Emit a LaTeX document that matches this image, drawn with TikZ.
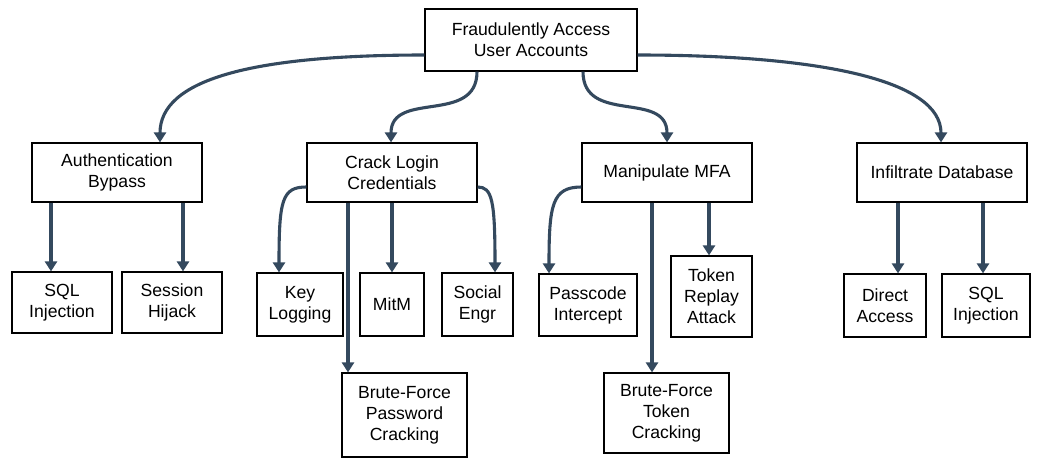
\documentclass[tikz,border=0pt]{standalone}
\usepackage{fontspec}
\setmainfont{Liberation Sans}
\usetikzlibrary{arrows.meta}
\definecolor{edgecol}{HTML}{34495E}
\begin{document}
\begin{tikzpicture}[x=1pt,y=-1pt,
  box/.style={draw=black,line width=1.2pt,fill=white,inner sep=0pt,align=center,
    font=\fontsize{17.6}{21}\selectfont},
  conn/.style={draw=edgecol,line width=3.1pt,-{Triangle[width=12pt,length=10pt]}}]
\useasboundingbox[fill=white] (0,0) rectangle (1046,467);
\node[box,minimum width=212pt,minimum height=62pt] (root) at (531,40) {Fraudulently Access\\User Accounts};
\node[box,minimum width=170pt,minimum height=59pt] (auth) at (117,172.5) {Authentication\\Bypass};
\node[box,minimum width=100pt,minimum height=61pt] (sqla) at (62,302.5) {SQL\\Injection};
\node[box,minimum width=100pt,minimum height=61pt] (sess) at (172,302.5) {Session\\Hijack};
\node[box,minimum width=170pt,minimum height=59pt] (crack) at (392,172.5) {Crack Login\\Credentials};
\node[box,minimum width=86pt,minimum height=63pt] (key) at (300,304.5) {Key\\Logging};
\node[box,minimum width=64pt,minimum height=63pt] (mitm) at (392,304.5) {MitM};
\node[box,minimum width=71pt,minimum height=63pt] (social) at (477.5,304.5) {Social\\Engr};
\node[box,minimum width=125pt,minimum height=84pt] (bfp) at (404.5,415) {Brute-Force\\Password\\Cracking};
\node[box,minimum width=170pt,minimum height=59pt] (mfa) at (667,172.5) {Manipulate MFA};
\node[box,minimum width=98pt,minimum height=62pt] (pass) at (588,305) {Passcode\\Intercept};
\node[box,minimum width=81pt,minimum height=81pt] (replay) at (711.5,296.5) {Token\\Replay\\Attack};
\node[box,minimum width=125pt,minimum height=80pt] (bft) at (666.5,413) {Brute-Force\\Token\\Cracking};
\node[box,minimum width=170pt,minimum height=59pt] (infil) at (942,172.5) {Infiltrate Database};
\node[box,minimum width=82pt,minimum height=63pt] (direct) at (885,305.5) {Direct\\Access};
\node[box,minimum width=88pt,minimum height=63pt] (sqlb) at (986,305.5) {SQL\\Injection};
% top level
\draw[conn] ([yshift=-15pt]root.west) .. controls (250,55) and (160,80) .. ([xshift=43pt]auth.north);
\draw[conn] ([yshift=-15pt]root.east) .. controls (820,55) and (941,80) .. ([xshift=-1pt]infil.north);
\draw[conn] ([xshift=-54pt]root.south) .. controls (477,125) and (391,90) .. ([xshift=-1pt]crack.north);
\draw[conn] ([xshift=52pt]root.south) .. controls (583,125) and (667,90) .. (mfa.north);
% auth
\draw[conn] ([xshift=-66pt]auth.south) -- ([xshift=-11pt]sqla.north);
\draw[conn] ([xshift=66pt]auth.south) -- ([xshift=11pt]sess.north);
% crack
\draw[conn] ([yshift=-14.5pt]crack.west) .. controls (282,187) and (279,200) .. ([xshift=-21pt]key.north);
\draw[conn] ([xshift=-44pt]crack.south) -- ([xshift=-56.5pt]bfp.north);
\draw[conn] (crack.south) -- (mitm.north);
\draw[conn] ([yshift=-14.5pt]crack.east) .. controls (492,187) and (495,200) .. ([xshift=17.5pt]social.north);
% mfa
\draw[conn] ([yshift=-14.5pt]mfa.west) .. controls (552,187) and (549,205) .. ([xshift=-39pt]pass.north);
\draw[conn] ([xshift=-15pt]mfa.south) -- ([xshift=-14.5pt]bft.north);
\draw[conn] ([xshift=42pt]mfa.south) -- ([xshift=-2.5pt]replay.north);
% infil
\draw[conn] ([xshift=-44pt]infil.south) -- ([xshift=13pt]direct.north);
\draw[conn] ([xshift=41pt]infil.south) -- ([xshift=-3pt]sqlb.north);
\end{tikzpicture}
\end{document}
